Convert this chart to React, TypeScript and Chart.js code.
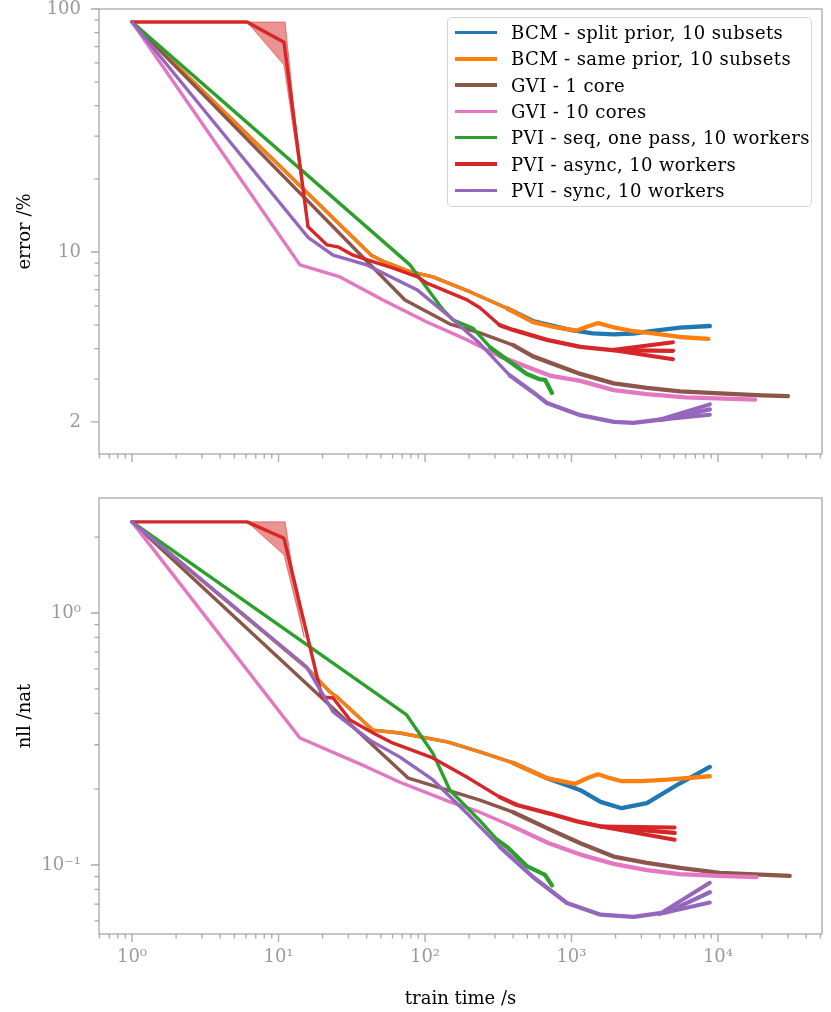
import React, { useEffect, useRef } from "react";
import { Chart, registerables } from "chart.js";

Chart.register(...registerables);

type Pt = [number, number];

// ---------- series meta ----------
const SERIES_NAMES = [
  "BCM - split prior, 10 subsets",
  "BCM - same prior, 10 subsets",
  "GVI - 1 core",
  "GVI - 10 cores",
  "PVI - seq, one pass, 10 workers",
  "PVI - async, 10 workers",
  "PVI - sync, 10 workers",
];
const SERIES_COLORS = ["#1f77b4", "#ff7f0e", "#8c564b", "#e377c2", "#2ca02c", "#d62728", "#9467bd"];
const BAND_COLOR = "rgba(214,39,40,0.5)";

// ---------- x axis ----------
const X_MIN = 0.5953;
const X_MAX = 51300;
const X_LABEL_VALUES = [1, 10, 100, 1000, 10000];
const X_LABEL_TEXT = ["10⁰", "10¹", "10²", "10³", "10⁴"];

// ---------- top panel: error / % ----------
const ERR_MIN = 1.475;
const ERR_MAX = 100;
const ERR_LABEL_VALUES = [2, 10, 100];
const ERR_LABEL_TEXT = ["2", "10", "100"];

const ERR_BCM_SPLIT: Pt[] = [
  [1, 88.4], [43, 9.7], [53, 9.1], [79, 8.3], [113, 7.9], [204, 6.85], [363, 5.87], [546, 5.2],
  [800, 4.92], [1000, 4.77], [1400, 4.63], [1940, 4.58], [2650, 4.62], [3270, 4.7], [5500, 4.88], [8800, 4.96],
];
const ERR_BCM_SAME: Pt[] = [
  [1, 88.4], [43, 9.7], [53, 9.1], [79, 8.3], [113, 7.9], [204, 6.85], [363, 5.87], [546, 5.15],
  [800, 4.88], [1090, 4.75], [1300, 4.95], [1517, 5.1], [1940, 4.9], [2650, 4.72], [3270, 4.66], [5500, 4.47], [8600, 4.39],
];
const ERR_GVI_1: Pt[] = [
  [1, 88.4], [73, 6.35], [148, 5.05], [237, 4.65], [400, 4.14], [546, 3.72], [1150, 3.15],
  [1940, 2.88], [3270, 2.76], [5500, 2.67], [10300, 2.62], [20000, 2.57], [30000, 2.55],
];
const ERR_GVI_10: Pt[] = [
  [1, 88.4], [14, 8.85], [26.3, 7.9], [51.6, 6.35], [103, 5.15], [194, 4.35], [324, 3.72], [710, 3.1],
  [1150, 2.95], [1940, 2.7], [3270, 2.6], [6000, 2.52], [17900, 2.47],
];
const ERR_PVI_SEQ: Pt[] = [
  [1, 88.4], [79, 8.85], [133, 5.77], [156, 5.25], [213, 4.85], [279, 4.05], [363, 3.6], [496, 3.15],
  [600, 3.0], [660, 2.98], [736, 2.63],
];
const ERR_PVI_ASYNC: Pt[] = [
  [1, 88.4], [6.1, 88.4], [10.9, 73], [15.9, 12.7], [21.4, 10.7], [25.4, 10.5], [32.3, 9.7], [40, 9.3],
  [60, 8.6], [89, 7.9], [103, 7.45], [194, 6.35], [237, 5.9], [324, 5.0], [400, 4.78], [680, 4.35],
  [1150, 4.07], [1900, 3.95], [4930, 3.92],
];
const ERR_PVI_ASYNC_HI: Pt[] = [[1900, 3.95], [4930, 4.25]];
const ERR_PVI_ASYNC_LO: Pt[] = [[1900, 3.95], [4930, 3.62]];
const ERR_PVI_ASYNC_BAND: Pt[] = [[6.1, 88.4], [11.1, 88.4], [13.4, 29], [15.2, 15], [10.9, 58.8], [6.1, 88.4]];
const ERR_PVI_SYNC: Pt[] = [
  [1, 88.4], [15.9, 11.5], [23.6, 9.7], [40, 8.85], [88, 7.0], [148, 5.4], [237, 4.2], [380, 3.1],
  [546, 2.65], [680, 2.39], [1150, 2.13], [1940, 2.0], [2650, 1.98], [4500, 2.06], [8800, 2.25],
];
const ERR_PVI_SYNC_HI: Pt[] = [[4000, 2.04], [8800, 2.36]];
const ERR_PVI_SYNC_LO: Pt[] = [[4000, 2.04], [8800, 2.14]];

// ---------- bottom panel: nll / nat ----------
const NLL_MIN = 0.05323;
const NLL_MAX = 2.86;
const NLL_LABEL_VALUES = [0.1, 1];
const NLL_LABEL_TEXT = ["10⁻¹", "10⁰"];

const NLL_BCM_SPLIT: Pt[] = [
  [1, 2.3], [15.6, 0.605], [22.5, 0.486], [25, 0.465], [44, 0.343], [67.5, 0.334], [142, 0.308],
  [237, 0.281], [400, 0.254], [680, 0.221], [980, 0.205], [1150, 0.198], [1580, 0.178], [2200, 0.168],
  [3270, 0.176], [5500, 0.211], [8800, 0.245],
];
const NLL_BCM_SAME: Pt[] = [
  [1, 2.3], [15.6, 0.605], [22.5, 0.486], [25, 0.465], [44, 0.343], [67.5, 0.334], [142, 0.308],
  [237, 0.281], [400, 0.254], [680, 0.221], [1060, 0.21], [1300, 0.222], [1517, 0.229], [1800, 0.222],
  [2200, 0.215], [3000, 0.215], [4500, 0.218], [8800, 0.225],
];
const NLL_GVI_1: Pt[] = [
  [1, 2.3], [77, 0.221], [237, 0.181], [400, 0.162], [680, 0.14], [1150, 0.122], [1940, 0.108],
  [3270, 0.102], [5500, 0.0973], [10300, 0.093], [30900, 0.0905],
];
const NLL_GVI_10: Pt[] = [
  [1, 2.3], [14, 0.319], [40, 0.245], [67.5, 0.213], [148, 0.178], [237, 0.162], [400, 0.142],
  [700, 0.122], [1150, 0.11], [1940, 0.101], [3270, 0.0955], [5500, 0.092], [10000, 0.0905], [18300, 0.0895],
];
const NLL_PVI_SEQ: Pt[] = [
  [1, 2.3], [75, 0.394], [113, 0.278], [148, 0.198], [237, 0.15], [310, 0.126], [363, 0.118],
  [496, 0.099], [660, 0.0914], [736, 0.083],
];
const NLL_PVI_ASYNC: Pt[] = [
  [1, 2.3], [6.1, 2.3], [10.9, 1.98], [19.8, 0.464], [23.6, 0.46], [30.8, 0.376], [44.3, 0.334],
  [60, 0.305], [113, 0.266], [194, 0.223], [324, 0.186], [424, 0.173], [710, 0.16], [1090, 0.149],
  [1600, 0.142], [5060, 0.134],
];
const NLL_PVI_ASYNC_HI: Pt[] = [[1600, 0.142], [5060, 0.141]];
const NLL_PVI_ASYNC_LO: Pt[] = [[1600, 0.142], [5060, 0.126]];
const NLL_PVI_ASYNC_BAND: Pt[] = [[6.1, 2.3], [11.1, 2.3], [13.4, 1.13], [15, 0.8], [10.9, 1.7], [6.1, 2.3]];
const NLL_PVI_SYNC: Pt[] = [
  [1, 2.3], [15.6, 0.61], [23.6, 0.405], [42, 0.313], [67.5, 0.268], [113, 0.218], [194, 0.16],
  [324, 0.118], [546, 0.0896], [930, 0.0707], [1580, 0.0635], [2650, 0.0622], [4500, 0.065], [8800, 0.078],
];
const NLL_PVI_SYNC_HI: Pt[] = [[4000, 0.064], [8800, 0.085]];
const NLL_PVI_SYNC_LO: Pt[] = [[4000, 0.064], [8800, 0.071]];

// ---------- styling ----------
const FONT = "'DejaVu Serif', serif";
const GREY = "#9a9a9a";
const FRAME = "#a8a8a8";

type Extra = { parent: number; pts: Pt[]; band?: boolean };
type Panel = {
  main: Pt[][];
  extras: Extra[];
  yMin: number;
  yMax: number;
  yLabelValues: number[];
  yLabelText: string[];
  yTitle: string;
  showXLabels: boolean;
  padTop: number;
  xAxisHeight: number;
};

const TOP: Panel = {
  main: [ERR_BCM_SPLIT, ERR_BCM_SAME, ERR_GVI_1, ERR_GVI_10, ERR_PVI_SEQ, ERR_PVI_ASYNC, ERR_PVI_SYNC],
  extras: [
    { parent: 5, pts: ERR_PVI_ASYNC_BAND, band: true },
    { parent: 5, pts: ERR_PVI_ASYNC_HI },
    { parent: 5, pts: ERR_PVI_ASYNC_LO },
    { parent: 6, pts: ERR_PVI_SYNC_HI },
    { parent: 6, pts: ERR_PVI_SYNC_LO },
  ],
  yMin: ERR_MIN,
  yMax: ERR_MAX,
  yLabelValues: ERR_LABEL_VALUES,
  yLabelText: ERR_LABEL_TEXT,
  yTitle: "error /%",
  showXLabels: false,
  padTop: 9,
  xAxisHeight: 16,
};

const BOTTOM: Panel = {
  main: [NLL_BCM_SPLIT, NLL_BCM_SAME, NLL_GVI_1, NLL_GVI_10, NLL_PVI_SEQ, NLL_PVI_ASYNC, NLL_PVI_SYNC],
  extras: [
    { parent: 5, pts: NLL_PVI_ASYNC_BAND, band: true },
    { parent: 5, pts: NLL_PVI_ASYNC_HI },
    { parent: 5, pts: NLL_PVI_ASYNC_LO },
    { parent: 6, pts: NLL_PVI_SYNC_HI },
    { parent: 6, pts: NLL_PVI_SYNC_LO },
  ],
  yMin: NLL_MIN,
  yMax: NLL_MAX,
  yLabelValues: NLL_LABEL_VALUES,
  yLabelText: NLL_LABEL_TEXT,
  yTitle: "nll /nat",
  showXLabels: true,
  padTop: 18,
  xAxisHeight: 78,
};

function logTicks(min: number, max: number): number[] {
  const out: number[] = [];
  for (let e = Math.floor(Math.log10(min)); e <= Math.ceil(Math.log10(max)); e++) {
    for (let d = 1; d <= 9; d++) {
      const v = parseFloat((d * Math.pow(10, e)).toPrecision(8));
      if (v >= min * 0.9999 && v <= max * 1.0001) out.push(v);
    }
  }
  return out;
}
const same = (a: number, b: number) => Math.abs(Math.log10(a / b)) < 1e-6;
const labelFor = (v: number, vals: number[], txt: string[]) => {
  const i = vals.findIndex((w) => same(v, w));
  return i >= 0 ? txt[i] : "";
};
const isPow10 = (v: number) => Math.abs(Math.log10(v) - Math.round(Math.log10(v))) < 1e-6;

const framePlugin = {
  id: "frameTicks",
  afterDatasetsDraw(chart: any, _a: any, opts: any) {
    const { ctx, chartArea: a } = chart;
    ctx.save();
    ctx.strokeStyle = FRAME;
    ctx.lineWidth = 1.3;
    ctx.strokeRect(a.left, a.top, a.right - a.left, a.bottom - a.top);
    const xs = chart.scales.x;
    const ys = chart.scales.y;
    ctx.beginPath();
    for (const t of xs.ticks) {
      const px = xs.getPixelForValue(t.value);
      if (px < a.left - 0.5 || px > a.right + 0.5) continue;
      const len = isPow10(t.value) ? 8 : 4.5;
      ctx.moveTo(px, a.bottom);
      ctx.lineTo(px, a.bottom + len);
    }
    for (const t of ys.ticks) {
      const py = ys.getPixelForValue(t.value);
      if (py < a.top - 0.5 || py > a.bottom + 0.5) continue;
      const major = isPow10(t.value) || opts.yMajor.some((w: number) => same(w, t.value));
      const len = major ? 8 : 4.5;
      ctx.moveTo(a.left, py);
      ctx.lineTo(a.left - len, py);
    }
    ctx.stroke();
    ctx.restore();
  },
};

// thicker line where the runs are noisy (long training times)
const segWidth = (ctx: any) => (ctx.p0.parsed.x >= 250 ? 4.3 : 3.4);

function buildConfig(p: Panel): any {
  const datasets: any[] = [];
  p.main.forEach((pts, i) => {
    datasets.push({
      label: SERIES_NAMES[i],
      data: pts.map(([x, y]) => ({ x, y })),
      borderColor: SERIES_COLORS[i],
      backgroundColor: SERIES_COLORS[i],
      borderWidth: 3.4,
      segment: { borderWidth: segWidth },
      pointRadius: 0,
      fill: false,
      borderJoinStyle: "round",
      borderCapStyle: "round",
      order: 20 - i * 2,
      clip: 0,
    });
  });
  p.extras.forEach((e) => {
    datasets.push(
      e.band
        ? {
            label: "band",
            data: e.pts.map(([x, y]) => ({ x, y })),
            borderColor: BAND_COLOR,
            backgroundColor: BAND_COLOR,
            borderWidth: 1,
            pointRadius: 0,
            fill: "shape",
            order: 21 - e.parent * 2,
            clip: 0,
          }
        : {
            label: "extra",
            data: e.pts.map(([x, y]) => ({ x, y })),
            borderColor: SERIES_COLORS[e.parent],
            borderWidth: 4,
            pointRadius: 0,
            fill: false,
            borderJoinStyle: "round",
            borderCapStyle: "round",
            order: 20 - e.parent * 2,
            clip: 0,
          }
    );
  });
  const xTicks = logTicks(X_MIN, X_MAX);
  const yTicks = logTicks(p.yMin, p.yMax);
  const tickFont = { family: FONT, size: 18 };
  return {
    type: "line",
    data: { datasets },
    plugins: [framePlugin],
    options: {
      animation: false,
      responsive: false,
      devicePixelRatio: 1,
      layout: { padding: { top: p.padTop, right: 9, left: 0, bottom: 0 } },
      plugins: {
        legend: { display: false },
        tooltip: { enabled: false },
        frameTicks: { yMajor: p.yLabelValues },
      },
      scales: {
        x: {
          type: "logarithmic",
          min: X_MIN,
          max: X_MAX,
          afterBuildTicks: (s: any) => {
            s.ticks = xTicks.map((v) => ({ value: v }));
          },
          afterFit: (s: any) => {
            s.height = p.xAxisHeight;
            s.paddingLeft = 0;
            s.paddingRight = 0;
            s.paddingTop = 0;
            s.paddingBottom = 0;
          },
          grid: { display: false, drawTicks: true, tickLength: 8 },
          border: { display: false },
          ticks: {
            display: p.showXLabels,
            autoSkip: false,
            maxRotation: 0,
            minRotation: 0,
            padding: 5,
            color: GREY,
            font: tickFont,
            callback: (v: number) => labelFor(v, X_LABEL_VALUES, X_LABEL_TEXT),
          },
          title: {
            display: p.showXLabels,
            text: "train time /s",
            color: "#000",
            font: { family: FONT, size: 18 },
            padding: { top: 0, bottom: 2 },
          },
        },
        y: {
          type: "logarithmic",
          min: p.yMin,
          max: p.yMax,
          afterBuildTicks: (s: any) => {
            s.ticks = yTicks.map((v) => ({ value: v }));
          },
          afterFit: (s: any) => {
            s.width = 99;
            s.paddingTop = 0;
            s.paddingBottom = 0;
            s.paddingLeft = 0;
            s.paddingRight = 0;
          },
          grid: { display: false, drawTicks: true, tickLength: 8 },
          border: { display: false },
          ticks: {
            autoSkip: false,
            padding: 10,
            color: GREY,
            font: tickFont,
            callback: (v: number) => labelFor(v, p.yLabelValues, p.yLabelText),
          },
          title: {
            display: true,
            text: p.yTitle,
            color: "#000",
            font: { family: FONT, size: 18 },
            padding: { top: 15, bottom: 0 },
          },
        },
      },
    },
  };
}

function PanelChart({ panel, top, height }: { panel: Panel; top: number; height: number }) {
  const ref = useRef<HTMLCanvasElement>(null);
  useEffect(() => {
    const chart = new Chart(ref.current as HTMLCanvasElement, buildConfig(panel));
    return () => chart.destroy();
  }, [panel]);
  return (
    <canvas
      ref={ref}
      width={831}
      height={height}
      style={{ position: "absolute", left: 0, top, width: 831, height, display: "block" }}
    />
  );
}

function Legend() {
  const rowH = 26.3;
  return (
    <div
      style={{
        position: "absolute",
        left: 447,
        top: 17,
        width: 363,
        height: 188,
        border: "1.5px solid #d4d4d4",
        borderRadius: 5,
        background: "rgba(255,255,255,0.8)",
        fontFamily: FONT,
        fontSize: 18,
        color: "#000",
      }}
    >
      {SERIES_NAMES.map((name, i) => (
        <div
          key={name}
          style={{
            position: "absolute",
            left: 0,
            top: 14.5 + i * rowH - 12,
            height: 24,
            width: "100%",
            display: "flex",
            alignItems: "center",
            whiteSpace: "nowrap",
          }}
        >
          <div style={{ marginLeft: 7, width: 42, height: 3.5, background: SERIES_COLORS[i] }} />
          <span style={{ marginLeft: 14, letterSpacing: 0.4 }}>{name}</span>
        </div>
      ))}
    </div>
  );
}

export default function App() {
  return (
    <div style={{ position: "absolute", left: 0, top: 0, width: 831, height: 1012, background: "#fff" }}>
      <PanelChart panel={TOP} top={0} height={470} />
      <PanelChart panel={BOTTOM} top={480} height={532} />
      <Legend />
    </div>
  );
}
